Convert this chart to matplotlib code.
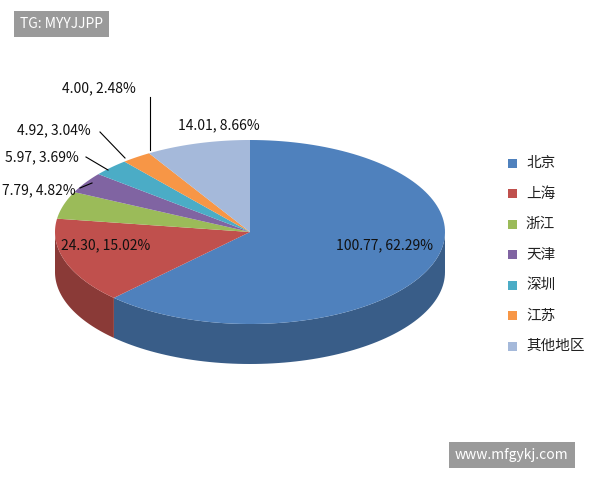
import numpy as np
import matplotlib
matplotlib.use("Agg")
import matplotlib.pyplot as plt
from matplotlib.patches import Polygon, Rectangle
import matplotlib.colors as mc

plt.rcParams['font.family'] = ['Noto Sans CJK SC', 'DejaVu Sans']

categories = ['北京', '上海', '浙江', '天津', '深圳', '江苏', '其他地区']
values = [100.77, 24.30, 7.79, 5.97, 4.92, 4.00, 14.01]
percents = [62.29, 15.02, 4.82, 3.69, 3.04, 2.48, 8.66]
colors = ['#4F81BD', '#C0504D', '#9BBB59', '#8064A2', '#4BACC6', '#F79646', '#A5B9DA']

fig = plt.figure(figsize=(6, 4.8), dpi=100)
ax = fig.add_axes([0, 0, 1, 1])
ax.set_xlim(0, 600); ax.set_ylim(480, 0); ax.axis('off')

cx, cy, rx, ry, depth = 250, 232, 195, 92, 40
fr = np.array(values) / sum(values)
ends = 90 - 360 * np.cumsum(fr)
starts = np.concatenate([[90], ends[:-1]])

def pt(t):
    r = np.radians(t)
    return cx + rx * np.cos(r), cy - ry * np.sin(r)

# sides
for s, e, c in zip(starts, ends, colors):
    dark = np.array(mc.to_rgb(c)) * 0.72
    for k in (0, -360, 360):
        a0, a1 = max(e + k, -180), min(s + k, 0)
        if a1 > a0:
            ts = np.linspace(a0, a1, 80)
            top = [pt(t) for t in ts]
            bot = [(x, y + depth) for x, y in top[::-1]]
            ax.add_patch(Polygon(top + bot, closed=True, fc=dark, ec='none'))
# tops
for s, e, c in zip(starts, ends, colors):
    ts = np.linspace(s, e, 120)
    ax.add_patch(Polygon([(cx, cy)] + [pt(t) for t in ts], closed=True, fc=c, ec='none'))

fs = 10
labels = [f"{v:.2f}, {p:.2f}%" for v, p in zip(values, percents)]
pos = [(385, 245, 'center'), (106, 245, 'center'), (2, 190, 'left'), (5, 157, 'left'),
       (17, 130, 'left'), (62, 88, 'left'), (178, 125, 'left')]
for lab, (x, y, ha) in zip(labels, pos):
    ax.text(x, y, lab, ha=ha, va='center', fontsize=fs, color='#111111')
lines = [((80, 188), (92, 183)), ((86, 157), (108, 170)), ((100, 132), (125, 158)), ((150, 97), (150, 150))]
for (a, b) in lines:
    ax.plot([a[0], b[0]], [a[1], b[1]], color='black', lw=0.8)

for i, (cat, c) in enumerate(zip(categories, colors)):
    y = 163 + i * 30.5
    ax.add_patch(Rectangle((508, y - 4.5), 9, 9, fc=c, ec='none'))
    ax.text(526, y, cat, va='center', fontsize=10.5, color='#222222')

ax.text(20, 24, 'TG: MYYJJPP', fontsize=10, color='white', va='center',
        bbox=dict(boxstyle='square,pad=0.45', fc='#9a9a9a', ec='none'))
ax.text(455, 455, 'www.mfgykj.com', fontsize=10, color='white', va='center',
        bbox=dict(boxstyle='square,pad=0.45', fc='#9a9a9a', ec='none'))

fig.savefig('out.png', dpi=100)
